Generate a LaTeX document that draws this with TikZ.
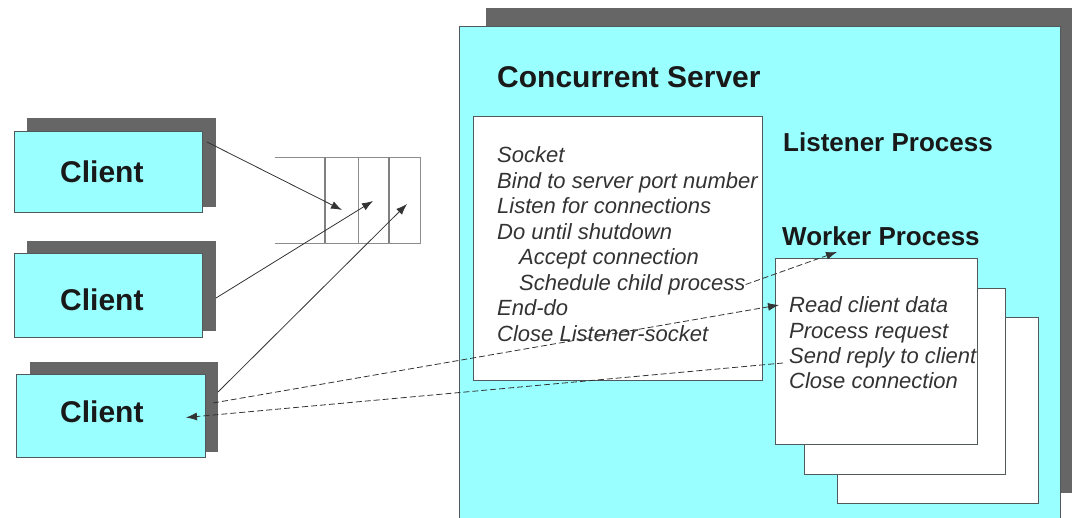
\documentclass[tikz,border=0pt]{standalone}
\usepackage{fontspec}
\setmainfont{Liberation Sans}
\usetikzlibrary{arrows.meta}
\definecolor{cyanfill}{RGB}{153,255,255}
\definecolor{shadowgray}{RGB}{102,102,102}
\definecolor{edgegray}{RGB}{80,90,90}
\begin{document}
\begin{tikzpicture}[x=1pt,y=-1pt,
  box/.style={anchor=north west, inner sep=0pt, outer sep=0pt},
  shadowbox/.style={box, fill=shadowgray, draw=none},
  cyanbox/.style={box, fill=cyanfill, draw=edgegray, line width=0.9pt},
  whitebox/.style={box, fill=white, draw=edgegray, line width=0.9pt},
  bigtext/.style={anchor=base west, inner sep=0pt, font=\fontsize{30}{34}\selectfont\bfseries, text=black!90},
  headtext/.style={anchor=base west, inner sep=0pt, font=\fontsize{26}{30}\selectfont\bfseries, text=black!90},
  steptext/.style={anchor=base west, inner sep=0pt, font=\fontsize{22}{25}\selectfont\itshape, text=black!80},
  conn/.style={draw=black!80, line width=0.8pt, -{Latex[length=11pt,width=8pt]}},
  dconn/.style={conn, dash pattern=on 6pt off 3pt},
  qline/.style={draw=black!45, line width=0.9pt},
  qthick/.style={draw=black!50, line width=2pt}
]
\useasboundingbox (0,0) rectangle (1073,518);

% server
\node[shadowbox, minimum width=586pt, minimum height=485pt] (srvshadow) at (486,8) {};
\node[cyanbox, minimum width=601pt, minimum height=500pt] (srv) at (459,26) {};
\node[bigtext] (srvtitle) at (497,88) {Concurrent Server};

% listener
\node[whitebox, minimum width=289pt, minimum height=264pt] (lst) at (473,116) {};
\node[headtext] (lsttitle) at (783,152) {Listener Process};
\node[steptext] (l1) at (497,163) {Socket};
\node[steptext] (l2) at (497,188.5) {Bind to server port number};
\node[steptext] (l3) at (497,214) {Listen for connections};
\node[steptext] (l4) at (497,239.5) {Do until shutdown};
\node[steptext] (l5) at (519,265) {Accept connection};
\node[steptext] (l6) at (519,290.5) {Schedule child process};
\node[steptext] (l7) at (497,316) {End-do};
\node[steptext] (l8) at (497,341.5) {Close Listener-socket};

% workers
\node[headtext] (wktitle) at (782,246) {Worker Process};
\node[whitebox, minimum width=201pt, minimum height=186pt] (w3) at (837,317) {};
\node[whitebox, minimum width=201pt, minimum height=186pt] (w2) at (804,288) {};
\node[whitebox, minimum width=202pt, minimum height=186pt] (w1) at (775,258) {};
\node[steptext] (r1) at (789,313) {Read client data};
\node[steptext] (r2) at (789,338) {Process request};
\node[steptext] (r3) at (789,363) {Send reply to client};
\node[steptext] (r4) at (789,388) {Close connection};

% clients
\node[shadowbox, minimum width=189pt, minimum height=89pt] (s1) at (27,118) {};
\node[cyanbox, minimum width=188pt, minimum height=81pt] (c1) at (14,131) {};
\node[bigtext] (t1) at (60,183) {Client};
\node[shadowbox, minimum width=189pt, minimum height=90pt] (s2) at (27,241) {};
\node[cyanbox, minimum width=188pt, minimum height=84pt] (c2) at (14,253) {};
\node[bigtext] (t2) at (60,311) {Client};
\node[shadowbox, minimum width=188pt, minimum height=90pt] (s3) at (30,362) {};
\node[cyanbox, minimum width=189pt, minimum height=83pt] (c3) at (16,374) {};
\node[bigtext] (t3) at (60,422) {Client};

% queue
\coordinate (qtl) at (275,157);
\coordinate (qtr) at (420,157);
\coordinate (qbl) at (275,243);
\coordinate (qbr) at (420,243);
\draw[qline] (qtl) -- (qtr) -- (qbr) -- (qbl);
\draw[qthick] (325,157) -- (325,243);
\draw[qline] (358,157) -- (358,243);
\draw[qthick] (389,157) -- (389,243);
\coordinate (q1) at (342,210);
\coordinate (q2) at (373,201);
\coordinate (q3) at (407,204);

% connectors
\draw[conn] ([shift={(5,11)}]c1.north east) -- (q1);
\draw[conn] ([shift={(0,12)}]s2.east) -- (q2);
\draw[conn] ([shift={(0,-15)}]s3.east) -- (q3);
\coordinate (wktip) at ([shift={(62,-6)}]w1.north west);
\draw[dconn] (l6.base east) ++(0,-6) -- (wktip);
\draw[dconn] ([shift={(-5,-4)}]s3.east) -- ([shift={(-10,-8)}]r1.base west);
\draw[dconn] ([shift={(-6,0)}]r3.base west) -- ([shift={(-19,2)}]c3.east);
\end{tikzpicture}
\end{document}
